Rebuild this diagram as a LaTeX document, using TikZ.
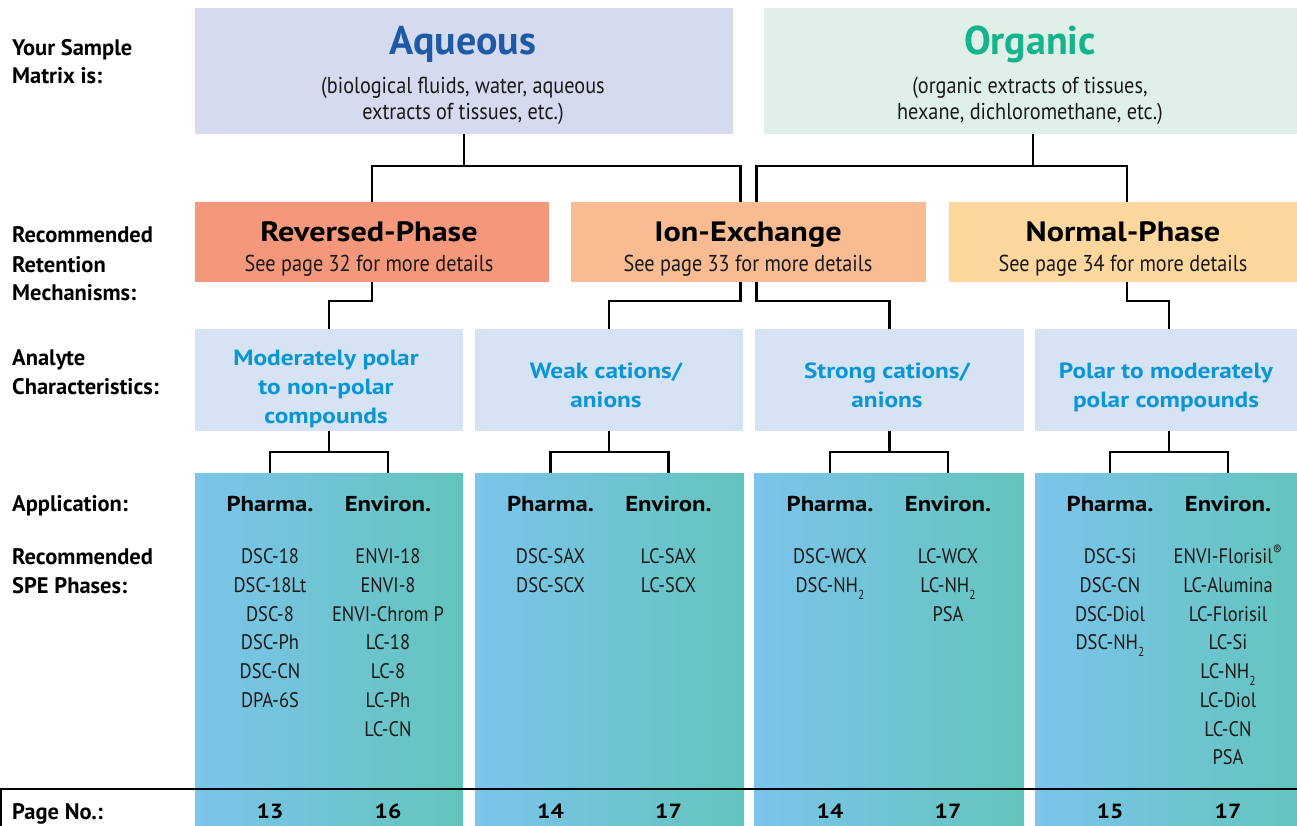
\documentclass[tikz,border=0pt]{standalone}
\usepackage{fontspec}
\setmainfont{PT Sans}
\newfontfamily\condfont{PT Sans}[FakeStretch=0.88]
\newfontfamily\heavyfont{PT Sans}[FakeStretch=1.15]
\usetikzlibrary{calc}
\newcommand{\lowtwo}{\raisebox{-0.33em}{\fontsize{13}{13}\selectfont 2}}
\definecolor{aqbg}{HTML}{D5DAEE}
\definecolor{orgbg}{HTML}{DFF0E8}
\definecolor{aqtx}{HTML}{1E5AA6}
\definecolor{orgtx}{HTML}{17B38C}
\definecolor{rpbg}{HTML}{F5977A}
\definecolor{iebg}{HTML}{F9BB92}
\definecolor{npbg}{HTML}{FDD79D}
\definecolor{anbg}{HTML}{D5E3F4}
\definecolor{antx}{HTML}{0A96D4}
\definecolor{appL}{HTML}{7CC4EB}
\definecolor{appR}{HTML}{63C4BC}
\begin{document}
\begin{tikzpicture}[x=1pt,y=-1pt,
  blk/.style={inner sep=0pt,outer sep=0pt,draw=none},
  appbox/.style={blk,left color=appL,right color=appR,minimum height=357pt},
  anbox/.style={blk,fill=anbg,minimum height=102pt},
  conn/.style={draw=black,line width=2.4pt},
  lbl/.style={anchor=base west,inner sep=0pt,font=\fontsize{22.5}{26}\selectfont\bfseries},
  tx/.style={anchor=base,inner sep=0pt},
  bigt/.style={tx,font=\fontsize{40}{44}\selectfont\bfseries},
  subt/.style={tx,font=\condfont\fontsize{23}{26}\selectfont,text=black!90},
  mech/.style={tx,font=\heavyfont\fontsize{28}{32}\selectfont\bfseries},
  mechs/.style={tx,font=\condfont\fontsize{23}{26}\selectfont,text=black!90},
  ant/.style={tx,font=\heavyfont\fontsize{22}{26}\selectfont\bfseries,text=antx},
  colh/.style={tx,font=\heavyfont\fontsize{21.5}{26}\selectfont\bfseries},
  spe/.style={tx,font=\condfont\fontsize{21}{26}\selectfont,text=black!90},
  pg/.style={tx,font=\heavyfont\fontsize{20.5}{26}\selectfont\bfseries}]
\useasboundingbox (0,0) rectangle (1297,826);
% ---- boxes
\node[blk,fill=aqbg,minimum width=538pt,minimum height=126pt] (aq) at (464,71) {};
\node[blk,fill=orgbg,minimum width=538pt,minimum height=126pt] (org) at (1033,71) {};
\node[blk,fill=rpbg,minimum width=354pt,minimum height=80pt] (rp) at (372,242) {};
\node[blk,fill=iebg,minimum width=355pt,minimum height=80pt] (ie) at (748.5,242) {};
\node[blk,fill=npbg,minimum width=356pt,minimum height=80pt] (np) at (1127,242) {};
\node[anbox,minimum width=268pt] (an1) at (329,380) {};
\node[anbox,minimum width=268pt] (an2) at (609,380) {};
\node[anbox,minimum width=269pt] (an3) at (889.5,380) {};
\node[anbox,minimum width=268pt] (an4) at (1169,380) {};
\node[appbox,minimum width=268pt] (ap1) at (329,651.5) {};
\node[appbox,minimum width=269pt] (ap2) at (609.5,651.5) {};
\node[appbox,minimum width=270pt] (ap3) at (889,651.5) {};
\node[appbox,minimum width=268pt] (ap4) at (1169,651.5) {};
% ---- left labels
\node[lbl] (l1) at (12,56) {Your Sample};
\node[lbl] (l2) at (12,84) {Matrix is:};
\node[lbl] (l3) at (12,243) {Recommended};
\node[lbl] (l4) at (12,272) {Retention};
\node[lbl] (l5) at (12,300) {Mechanisms:};
\node[lbl] (l6) at (12,365) {Analyte};
\node[lbl] (l7) at (12,394) {Characteristics:};
\node[lbl] (l8) at (12,511) {Application:};
\node[lbl] (l9) at (12,564) {Recommended};
\node[lbl] (l10) at (12,593) {SPE Phases:};
\node[lbl] (l11) at (12,819) {Page No.:};
% ---- top texts
\node[bigt,text=aqtx] (aqt) at (463,55) {Aqueous};
\node[subt] (aqs1) at (463,94) {(biological fluids, water, aqueous};
\node[subt] (aqs2) at (463,120) {extracts of tissues, etc.)};
\node[bigt,text=orgtx] (orgt) at (1030,55) {Organic};
\node[subt] (orgs1) at (1030,94) {(organic extracts of tissues,};
\node[subt] (orgs2) at (1030,120) {hexane, dichloromethane, etc.)};
% ---- mechanisms
\node[mech] (rpt) at (369,242) {Reversed-Phase};
\node[mechs] (rps) at (369,271) {See page 32 for more details};
\node[mech] (iet) at (748,242) {Ion-Exchange};
\node[mechs] (ies) at (748,271) {See page 33 for more details};
\node[mech] (npt) at (1123,242) {Normal-Phase};
\node[mechs] (nps) at (1123,271) {See page 34 for more details};
% ---- analyte characteristics
\node[ant] (a11) at (326,365) {Moderately polar};
\node[ant] (a12) at (326,394) {to non-polar};
\node[ant] (a13) at (326,423) {compounds};
\node[ant] (a21) at (606,378) {Weak cations/};
\node[ant] (a22) at (606,407) {anions};
\node[ant] (a31) at (887,378) {Strong cations/};
\node[ant] (a32) at (887,407) {anions};
\node[ant] (a41) at (1166,378) {Polar to moderately};
\node[ant] (a42) at (1166,407) {polar compounds};
% ---- column coordinates
\foreach \i in {1,2,3,4}{
  \coordinate (p\i) at ([xshift=-59pt]ap\i.north);
  \coordinate (e\i) at ([xshift=59pt]ap\i.north);
}
% ---- column headers and page numbers
\foreach \i/\pp/\ee in {1/13/16,2/14/17,3/14/17,4/15/17}{
  \node[colh] (ph\i) at (p\i |- 0,511) {Pharma.};
  \node[colh] (eh\i) at (e\i |- 0,511) {Environ.};
  \node[pg] (pn\i) at (p\i |- 0,818) {\pp};
  \node[pg] (en\i) at (e\i |- 0,818) {\ee};
}
% ---- SPE phases
\foreach \t [count=\k from 0] in {DSC-18,DSC-18Lt,DSC-8,DSC-Ph,DSC-CN,DPA-6S}
  \node[spe] (s1p\k) at ($(p1 |- 0,563.5)+(0,28.75*\k)$) {\t};
\foreach \t [count=\k from 0] in {ENVI-18,ENVI-8,ENVI-Chrom P,LC-18,LC-8,LC-Ph,LC-CN}
  \node[spe] (s1e\k) at ($(e1 |- 0,563.5)+(0,28.75*\k)$) {\t};
\foreach \t [count=\k from 0] in {DSC-SAX,DSC-SCX}
  \node[spe] (s2p\k) at ($(p2 |- 0,563.5)+(0,28.75*\k)$) {\t};
\foreach \t [count=\k from 0] in {LC-SAX,LC-SCX}
  \node[spe] (s2e\k) at ($(e2 |- 0,563.5)+(0,28.75*\k)$) {\t};
\foreach \t [count=\k from 0] in {DSC-WCX,DSC-NH\lowtwo}
  \node[spe] (s3p\k) at ($(p3 |- 0,563.5)+(0,28.75*\k)$) {\t};
\foreach \t [count=\k from 0] in {LC-WCX,LC-NH\lowtwo,PSA}
  \node[spe] (s3e\k) at ($(e3 |- 0,563.5)+(0,28.75*\k)$) {\t};
\foreach \t [count=\k from 0] in {DSC-Si,DSC-CN,DSC-Diol,DSC-NH\lowtwo}
  \node[spe] (s4p\k) at ($(p4 |- 0,563.5)+(0,28.75*\k)$) {\t};
\foreach \t [count=\k from 0] in {ENVI-Florisil\textsuperscript{®},LC-Alumina,LC-Florisil,LC-Si,LC-NH\lowtwo,LC-Diol,LC-CN,PSA}
  \node[spe] (s4e\k) at ($(e4 |- 0,563.5)+(0,28.75*\k)$) {\t};
% ---- connectors
\draw[conn] (aq.south) -- ++(0,32) -| (rp.north);
\draw[conn] (aq.south) ++(0,32) -| ([xshift=-8pt]ie.north);
\draw[conn] (org.south) -- ++(0,32) -| ([xshift=8pt]ie.north);
\draw[conn] (org.south) ++(0,32) -| (np.north);
\draw[conn] (rp.south) -- ++(0,19) -| (an1.north);
\draw[conn] ([xshift=-8pt]ie.south) -- ++(0,19) -| (an2.north);
\draw[conn] ([xshift=8pt]ie.south) -- ++(0,19) -| (an3.north);
\draw[conn] (np.south) -- ++(0,19) -| (an4.north);
\foreach \i in {1,2,3,4}{
  \draw[conn] (an\i.south) -- ++(0,21) -| (p\i);
  \draw[conn] (an\i.south) ++(0,21) -| (e\i);
}
% ---- page number rule
\coordinate (rl) at (1,789);
\coordinate (rr) at (1297,789);
\coordinate (rb) at (1,830);
\draw[conn] (rb) -- (rl) -- (rr);
\end{tikzpicture}
\end{document}
